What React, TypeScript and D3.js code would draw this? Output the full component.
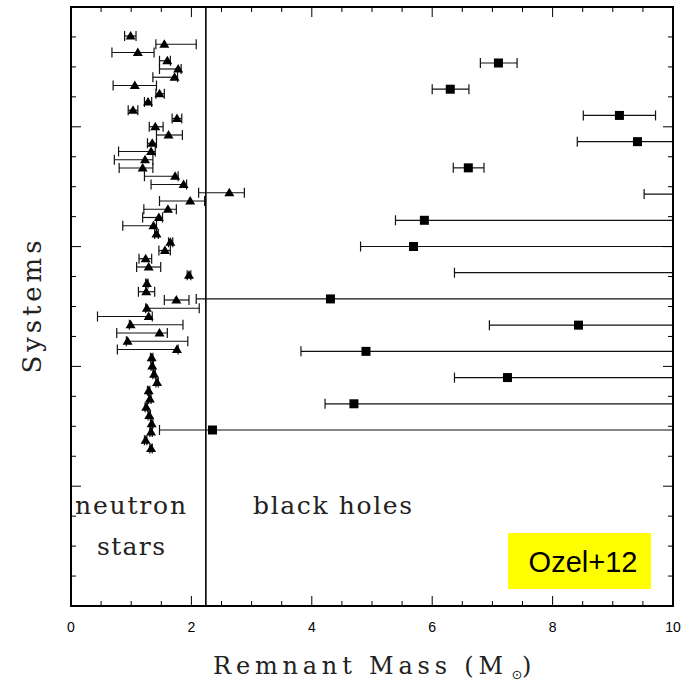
import React from "react";
import * as d3 from "d3";

// Neutron stars: [mass, lower, upper]
const nsMass = [0.99,1.55,1.11,1.60,1.78,1.72,1.06,1.47,1.28,1.03,1.76,1.40,1.62,1.35,1.33,1.23,1.19,1.73,1.87,2.63,1.98,1.61,1.46,1.37,1.42,1.65,1.56,1.24,1.29,1.96,1.26,1.25,1.75,1.26,1.29,0.99,1.47,0.94,1.76,1.34,1.35,1.38,1.43,1.29,1.31,1.25,1.30,1.34,1.33,1.24,1.33];
const nsLow = [0.89,1.41,0.68,1.47,1.47,1.36,0.70,1.41,1.22,0.95,1.68,1.30,1.42,1.27,0.79,0.72,0.80,1.22,1.33,2.12,1.47,1.21,1.19,0.86,1.39,1.62,1.46,1.13,1.09,1.93,1.24,1.12,1.55,1.24,0.44,0.97,0.76,0.92,0.77,1.32,1.33,1.36,1.41,1.27,1.29,1.23,1.28,1.32,1.31,1.22,1.31];
const nsHigh = [1.08,2.08,1.38,1.65,1.83,1.77,1.42,1.55,1.34,1.11,1.84,1.53,1.85,1.42,1.40,1.36,1.36,1.78,1.92,2.88,2.22,1.75,1.52,1.42,1.45,1.69,1.65,1.34,1.49,1.99,1.28,1.39,1.96,2.13,1.35,1.86,1.60,1.94,1.78,1.36,1.37,1.40,1.45,1.31,1.33,1.27,1.32,1.36,1.35,1.26,1.35];

// Black holes: [mass, lower, upper] (values above 10 fall outside the axis)
const bhMass = [7.10,6.30,9.11,9.41,6.60,11.0,5.87,5.69,11.0,4.31,8.43,4.90,7.25,4.70,2.35];
const bhLow = [6.80,6.00,8.51,8.41,6.35,9.52,5.39,4.81,6.37,2.08,6.95,3.82,6.37,4.22,1.47];
const bhHigh = [7.41,6.61,9.71,15,6.86,15,15,15,15,15,15,15,15,15,15];

const xTickLabels = ["0", "2", "4", "6", "8", "10"];
const massGap = 2.24;

const W = 697, H = 681;
const L = 71, R = 673, T = 7, B = 606;

export default function App() {
  const x = d3.scaleLinear().domain([0, 10]).range([L, R]);
  const yAxis = d3.scaleLinear().domain([0, 20]).range([B, T]);
  const yNS = d3.scaleLinear().domain([0, nsMass.length - 1]).range([36, 448.5]);
  const yBH = d3.scaleLinear().domain([0, bhMass.length - 1]).range([63, 430]);

  const xMinor = d3.range(0, 10.001, 0.5);
  const yMinor = d3.range(1, 20, 1);
  const cap = 5;

  const tri = (cx: number, cy: number) =>
    `M${cx},${cy - 5}L${cx + 5},${cy + 3.5}L${cx - 5},${cy + 3.5}Z`;

  return (
    <svg width={W} height={H} style={{ display: "block", position: "absolute", left: 0, top: 0 }}>
      <defs>
        <clipPath id="plot">
          <rect x={L} y={T} width={R - L} height={B - T} />
        </clipPath>
      </defs>
      <rect x={0} y={0} width={W} height={H} fill="#fff" />

      <rect x={508} y={533} width={143} height={56} fill="#ffff00" />
      <text x={583} y={572} textAnchor="middle" fontFamily="Liberation Sans, Arial, sans-serif" fontSize={29} fill="#000">Ozel+12</text>

      <g clipPath="url(#plot)">
        {nsMass.map((m, i) => {
          const yy = yNS(i);
          return (
            <g key={"nse" + i} stroke="#111" strokeWidth={1.2}>
              <line x1={x(nsLow[i])} x2={x(nsHigh[i])} y1={yy} y2={yy} />
              <line x1={x(nsLow[i])} x2={x(nsLow[i])} y1={yy - cap} y2={yy + cap} />
              <line x1={x(nsHigh[i])} x2={x(nsHigh[i])} y1={yy - cap} y2={yy + cap} />
            </g>
          );
        })}
        {bhMass.map((m, i) => {
          const yy = yBH(i);
          return (
            <g key={"bhe" + i} stroke="#111" strokeWidth={1.2}>
              <line x1={x(bhLow[i])} x2={x(bhHigh[i])} y1={yy} y2={yy} />
              <line x1={x(bhLow[i])} x2={x(bhLow[i])} y1={yy - cap} y2={yy + cap} />
              <line x1={x(bhHigh[i])} x2={x(bhHigh[i])} y1={yy - cap} y2={yy + cap} />
            </g>
          );
        })}
        {nsMass.map((m, i) => (
          <path key={"ns" + i} d={tri(x(m), yNS(i))} fill="#000" />
        ))}
        {bhMass.map((m, i) => (
          <rect key={"bh" + i} x={x(m) - 4.5} y={yBH(i) - 4.5} width={9} height={9} fill="#000" />
        ))}
      </g>

      <line x1={x(massGap)} x2={x(massGap)} y1={T} y2={B} stroke="#000" strokeWidth={1.6} />

      <g stroke="#000" strokeWidth={1}>
        {xMinor.map((v, i) => {
          const major = Math.abs(v / 2 - Math.round(v / 2)) < 1e-6;
          const len = major ? 10 : 5;
          return (
            <g key={"xt" + i}>
              <line x1={x(v)} x2={x(v)} y1={B} y2={B - len} />
              <line x1={x(v)} x2={x(v)} y1={T} y2={T + len} />
            </g>
          );
        })}
        {yMinor.map((v, i) => {
          const major = v % 4 === 0;
          const len = major ? 10 : 5;
          return (
            <g key={"yt" + i}>
              <line x1={L} x2={L + len} y1={yAxis(v)} y2={yAxis(v)} />
              <line x1={R} x2={R - len} y1={yAxis(v)} y2={yAxis(v)} />
            </g>
          );
        })}
      </g>

      <rect x={L} y={T} width={R - L} height={B - T} fill="none" stroke="#000" strokeWidth={2} />

      {xTickLabels.map((t) => (
        <text key={t} x={x(+t)} y={632} textAnchor="middle" fontFamily="Liberation Sans, Arial, sans-serif" fontSize={14} fill="#000">{t}</text>
      ))}

      <g fontFamily="DejaVu Serif, serif" fontSize={25} fill="#222">
        <text x={75} y={514} textLength={111} lengthAdjust="spacing">neutron</text>
        <text x={97} y={555} textLength={68} lengthAdjust="spacing">stars</text>
        <text x={253} y={514} textLength={159} lengthAdjust="spacing">black holes</text>
      </g>

      <g fontFamily="DejaVu Serif, serif" fill="#222">
        <text x={213} y={674} fontSize={24} textLength={290} lengthAdjust="spacing">Remnant Mass (M</text>
        <text x={517} y={679} fontSize={13} textAnchor="middle" fontFamily="DejaVu Sans, sans-serif">⊙</text>
        <text x={522} y={674} fontSize={24}>)</text>
        <text transform="translate(41,307) rotate(-90)" textAnchor="middle" fontSize={26} textLength={133} lengthAdjust="spacing">Systems</text>
      </g>
    </svg>
  );
}
